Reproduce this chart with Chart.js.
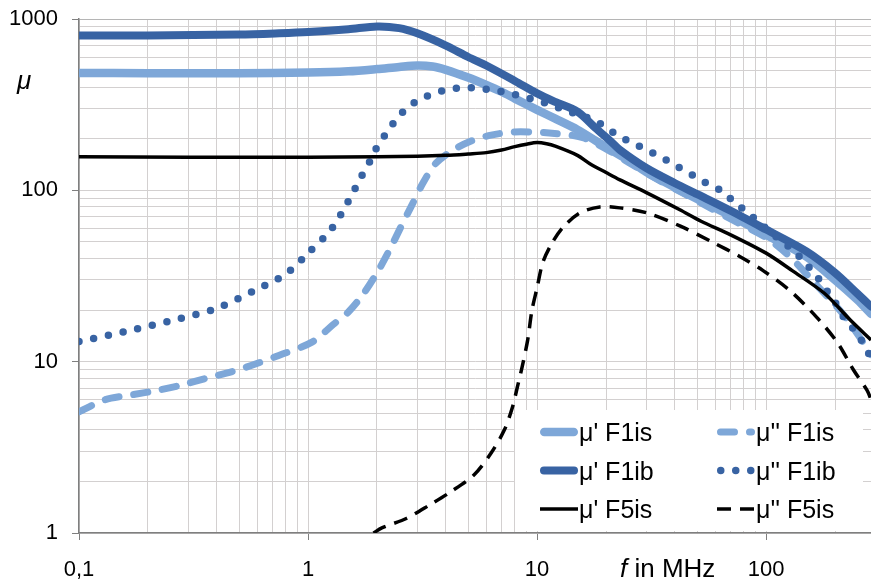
<!DOCTYPE html>
<html>
<head>
<meta charset="utf-8">
<script src="https://cdn.jsdelivr.net/npm/chart.js@4"></script>
<style>
  html, body { margin: 0; padding: 0; background: #fff; }
</style>
</head>
<body>
<canvas id="mu-chart" width="871" height="585"></canvas>
<script>
// frequency in MHz and permeability
const f1isRealFreq = [0.1, 0.2, 0.5, 1, 1.5, 2, 2.5, 3, 3.5, 4, 5, 6, 7, 8, 10, 12, 15, 18, 21, 25, 30, 40, 50, 70, 100, 150, 200, 250, 287];
const f1isRealMu = [484, 483, 483, 487, 495, 510, 525, 535, 528, 505, 455, 412, 376, 343, 295, 262, 226, 195, 172, 150, 128, 104, 89, 71, 55, 41, 30, 23, 19];

const f1isImagFreq = [0.1, 0.13, 0.17, 0.22, 0.28, 0.36, 0.5, 0.75, 1.04, 1.29, 1.5, 1.73, 2.0, 2.29, 2.54, 2.84, 3.17, 3.6, 4.3, 5.3, 6.3, 7.8, 9.6, 11.3, 14, 16, 18, 21, 25, 30, 40, 50, 70, 100, 127, 162, 215, 255, 287];
const f1isImagMu = [5.1, 6, 6.4, 6.8, 7.3, 8, 9, 10.9, 13, 16.5, 19.5, 24.5, 33, 46, 61, 82, 110, 143, 172, 197, 210, 219, 219, 216, 210, 202, 188, 168, 146, 126, 102, 87, 68, 53, 41, 29, 19.2, 14, 11];

const f1ibRealFreq = [0.1, 0.2, 0.5, 0.75, 1, 1.5, 2, 2.5, 3, 4, 5, 6, 8, 10, 12, 15, 18, 21, 23, 30, 40, 50, 70, 100, 150, 200, 250, 287];
const f1ibRealMu = [800, 802, 812, 826, 840, 872, 905, 885, 825, 700, 600, 535, 435, 368, 328, 288, 231, 193, 172, 135, 110, 95, 76, 59, 44, 33, 25, 21];

const f1ibImagFreq = [0.1, 0.16, 0.25, 0.4, 0.6, 0.8, 1.0, 1.26, 1.49, 1.73, 1.87, 2.0, 2.2, 2.4, 2.68, 3, 3.4, 4, 4.65, 5.5, 6.3, 7.5, 8.7, 10, 11.8, 13.5, 15.8, 18.3, 21, 24, 27.7, 32, 36.7, 42, 48.6, 55.6, 65, 72, 82, 93, 106, 118, 133, 147, 165, 180, 197, 215, 236, 255, 280, 287];
const f1ibImagMu = [13.1, 15, 17.3, 20.5, 26.5, 32.5, 43, 59, 85, 124, 149, 179, 216, 254, 299, 333, 360, 385, 396, 396, 385, 370, 351, 335, 311, 291, 272, 251, 222, 200, 182, 165, 150, 135, 121, 109, 98, 86, 75, 65, 56, 50, 44, 38, 32, 27, 23, 18.7, 16, 14, 11.2, 10.6];

const f5isRealFreq = [0.1, 0.3, 1, 2, 3, 4, 5, 6, 7, 8, 9, 10, 11, 12, 15, 17, 20, 23, 30, 42, 52, 70, 100, 130, 180, 233, 287];
const f5isRealMu = [157, 156, 156, 157, 158, 160, 163, 166, 172, 180, 186, 190, 187, 181, 160, 143, 127, 115, 97, 77, 66, 55, 43, 34, 25, 17.5, 13.4];

const f5isImagFreq = [1.93, 2.1, 2.7, 3.4, 4.2, 5.3, 6.3, 7.2, 7.8, 8.2, 8.6, 9.1, 9.5, 10, 10.6, 11.6, 13, 15.4, 18.8, 23, 30, 42, 58, 77, 97, 127, 166, 205, 240, 276, 287];
const f5isImagMu = [1, 1.07, 1.22, 1.46, 1.74, 2.18, 2.93, 4, 5.4, 7.1, 9.3, 13.4, 20, 27, 38, 49, 61, 74, 80, 79, 74, 62, 50, 41, 34, 26, 18.2, 12.9, 9, 6.8, 6];

const seriesNames = ["μ' F1is", "μ'' F1is", "μ' F1ib", "μ'' F1ib", "μ' F5is", "μ'' F5is"];

// axis ticks
const xDecades = [0.1, 1, 10, 100];
const xDecadeLabels = ["0,1", "1", "10", "100"];
const yDecades = [1, 10, 100, 1000];
const yDecadeLabels = ["1", "10", "100", "1000"];
const xMin = 0.1, xMax = 287, yMin = 1, yMax = 1000;

const lightBlue = "#7ea7d8";
const darkBlue = "#3863a3";
const font = "'Liberation Sans', Arial, sans-serif";

function points(freq, mu) {
  return freq.map((f, i) => ({ x: f, y: mu[i] }));
}

function isDecade(v) {
  const l = Math.log10(v);
  return Math.abs(l - Math.round(l)) < 1e-9;
}

// 1..9 per decade, like the original grid
function logTicks(decades, max) {
  const out = [];
  decades.forEach((d) => {
    for (let k = 1; k <= 9; k++) {
      const v = d * k;
      if (v <= max + 1e-9) out.push({ value: v });
    }
  });
  return out;
}

const datasets = [
  { data: points(f1isRealFreq, f1isRealMu), borderColor: lightBlue, borderWidth: 8.5, borderCapStyle: "round" },
  { data: points(f1isImagFreq, f1isImagMu), borderColor: lightBlue, borderWidth: 7, borderDash: [14, 15], borderCapStyle: "round" },
  { data: points(f1ibRealFreq, f1ibRealMu), borderColor: darkBlue, borderWidth: 8, borderCapStyle: "round" },
  { data: points(f1ibImagFreq, f1ibImagMu), borderColor: darkBlue, borderWidth: 7.5, borderDash: [0, 15], borderCapStyle: "round" },
  { data: points(f5isRealFreq, f5isRealMu), borderColor: "#000", borderWidth: 3.5, borderCapStyle: "butt" },
  { data: points(f5isImagFreq, f5isImagMu), borderColor: "#000", borderWidth: 3.5, borderDash: [14, 9], borderCapStyle: "butt" },
].map((ds, i) => Object.assign(ds, {
  label: seriesNames[i],
  order: 10 - i,
  fill: false,
  pointRadius: 0,
  tension: 0.3,
}));

const extrasPlugin = {
  id: "extras",
  afterDraw(chart) {
    const ctx = chart.ctx;
    const area = chart.chartArea;
    ctx.save();

    // legend box inside the plot, bottom right
    const boxRight = area.right - 8;
    const boxBottom = area.bottom - 2;
    const boxLeft = boxRight - 348;
    const boxTop = boxBottom - 121;
    ctx.fillStyle = "#fff";
    ctx.fillRect(boxLeft, boxTop, boxRight - boxLeft, boxBottom - boxTop);

    ctx.font = "25px " + font;
    ctx.textBaseline = "alphabetic";
    ctx.textAlign = "left";
    chart.data.datasets.forEach((ds, i) => {
      const col = i % 2;
      const row = Math.floor(i / 2);
      const x0 = boxLeft + 25 + col * 177;
      const yMid = boxTop + 22 + row * 38.5;
      ctx.beginPath();
      ctx.setLineDash(ds.borderDash || []);
      ctx.lineDashOffset = 0;
      ctx.lineWidth = ds.borderWidth;
      ctx.strokeStyle = ds.borderColor;
      ctx.lineCap = ds.borderCapStyle;
      const pad = ds.borderCapStyle === "round" ? ds.borderWidth / 2 : 0;
      ctx.moveTo(x0 + pad, yMid);
      ctx.lineTo(x0 + 38 - pad, yMid);
      ctx.stroke();
      ctx.setLineDash([]);
      ctx.fillStyle = "#000";
      ctx.fillText(ds.label, x0 + 39, yMid + 9);
    });

    // axis titles
    ctx.fillStyle = "#000";
    ctx.font = "italic 26px " + font;
    ctx.fillText("μ", 17, 89);
    ctx.fillText("f", 620, 577);
    const fw = ctx.measureText("f").width;
    ctx.font = "26px " + font;
    ctx.fillText(" in MHz", 620 + fw, 577);

    ctx.restore();
  },
};

const gridColor = "#d3d0d0";
const axisColor = "#7f7f7f";

new Chart(document.getElementById("mu-chart"), {
  type: "line",
  data: { datasets: datasets },
  options: {
    responsive: false,
    animation: false,
    devicePixelRatio: 1,
    layout: { padding: { top: 19, right: 0, bottom: 0, left: 0 } },
    plugins: { legend: { display: false }, tooltip: { enabled: false } },
    scales: {
      x: {
        type: "logarithmic",
        min: xMin,
        max: xMax,
        afterBuildTicks: (s) => { s.ticks = logTicks(xDecades, xMax); },
        afterFit: (s) => {
          s.height = 52;
          s.paddingLeft = 0;
          s.paddingRight = 0;
        },
        border: { color: axisColor, width: 1.5 },
        grid: {
          color: gridColor,
          lineWidth: 1,
          tickLength: 7,
          tickColor: (c) => (c.tick && isDecade(c.tick.value) ? axisColor : "rgba(0,0,0,0)"),
        },
        ticks: {
          autoSkip: false,
          maxRotation: 0,
          padding: 17,
          color: "#000",
          font: { family: font, size: 22 },
          callback: (v) => {
            const i = xDecades.findIndex((d) => Math.abs(d - v) < 1e-9);
            return i >= 0 ? xDecadeLabels[i] : "";
          },
        },
      },
      y: {
        type: "logarithmic",
        min: yMin,
        max: yMax,
        afterBuildTicks: (s) => { s.ticks = logTicks(yDecades, yMax); },
        afterFit: (s) => {
          s.width = 79;
          s.paddingTop = 0;
          s.paddingBottom = 0;
        },
        border: { color: axisColor, width: 1.5 },
        grid: {
          color: (c) => (c.tick && c.tick.value === yMax ? "#b5b5b5" : gridColor),
          lineWidth: 1,
          tickLength: 7,
          tickColor: (c) => (c.tick && isDecade(c.tick.value) ? axisColor : "rgba(0,0,0,0)"),
        },
        ticks: {
          autoSkip: false,
          padding: 14,
          color: "#000",
          font: { family: font, size: 22 },
          callback: (v) => {
            const i = yDecades.findIndex((d) => Math.abs(d - v) < 1e-9);
            return i >= 0 ? yDecadeLabels[i] : "";
          },
        },
      },
    },
  },
  plugins: [extrasPlugin],
});
</script>
</body>
</html>
